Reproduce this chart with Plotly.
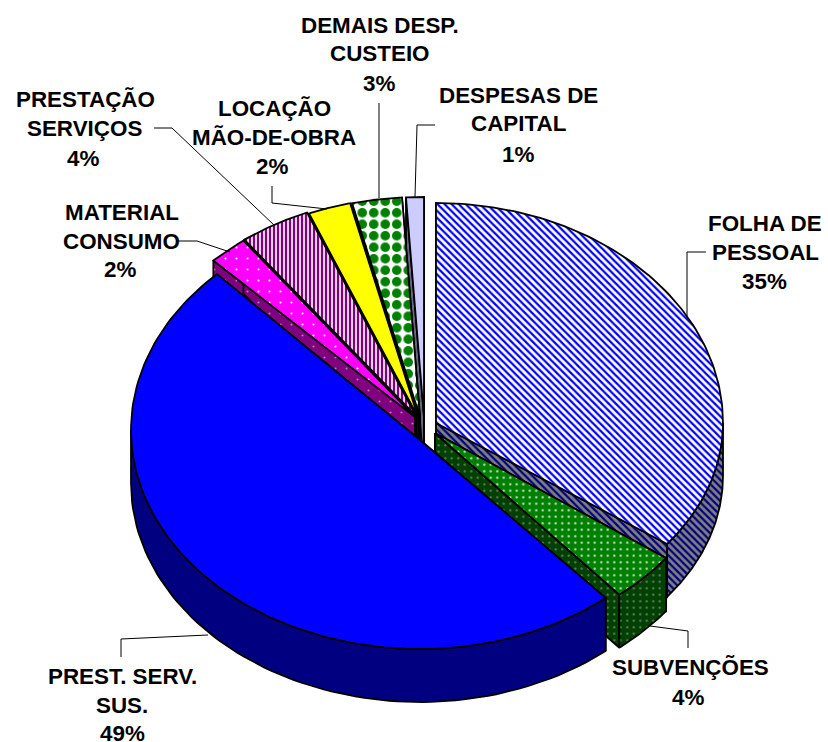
"""Exploded 3D-look pie of spending shares, drawn as filled Plotly scatter polygons."""
import numpy as np
import plotly.graph_objects as go

# data
CATEGORIES = ["FOLHA DE PESSOAL", "SUBVENÇÕES", "PREST. SERV. SUS.", "MATERIAL CONSUMO",
              "PRESTAÇÃO SERVIÇOS", "LOCAÇÃO MÃO-DE-OBRA", "DEMAIS DESP. CUSTEIO",
              "DESPESAS DE CAPITAL"]
VALUES = [35.1, 3.8, 48.7, 2.2, 4.0, 2.4, 2.8, 1.0]

# label text lines without the percentage, which comes from VALUES
LABEL_LINES = [["FOLHA DE", "PESSOAL"], ["SUBVENÇÕES"], ["PREST. SERV.", "SUS."],
               ["MATERIAL", "CONSUMO"], ["PRESTAÇÃO", "SERVIÇOS"], ["LOCAÇÃO", "MÃO-DE-OBRA"],
               ["DEMAIS DESP.", "CUSTEIO"], ["DESPESAS DE", "CAPITAL"]]
LABEL_X = [[765, 765, 764], [690, 688], [122, 122, 122], [122, 121, 120],
           [85, 84, 83], [274, 274, 272], [380, 380, 379], [518, 518, 518]]
LABEL_Y = [[223, 252, 281], [667, 697], [676, 705, 733], [212, 241, 269],
           [99, 128, 158], [108, 137, 166], [25, 53, 83], [95, 123, 154]]
LEADER_X = [[706, 687, 687], [688, 688, 650], [121, 121, 208], [178, 197, 230],
            [154, 172, 275], [272, 272, 327], [379, 379], [435, 417, 415]]
LEADER_Y = [[252, 252, 318], [648, 631, 626], [657, 639, 635], [241, 241, 252],
            [128, 128, 226], [186, 203, 209], [103, 198], [125, 125, 197]]

# geometry per slice, pixels on the page; the rim is not quite centred on the apex
DEPTH = 53
APEX_X = [436, 435, 420, 415, 416, 418, 420, 424]
APEX_Y = [423, 433, 440, 417, 416, 417, 417, 417]
RADIUS_X = [287, 287, 289, 287, 287, 287, 287, 287]
RADIUS_BACK = [220, 220, 219, 220, 220, 220, 220, 220]
RADIUS_FRONT = [204, 211, 219, 220, 220, 220, 220, 220]
RIM_SHIFT = [0, 0, -10, 0, 0, 0, 0, 0]
DRAW_ORDER = [7, 6, 5, 4, 3, 0, 1, 2]


def pat(shape, fg, bg, size, solidity):
    return dict(fillcolor=bg, fillpattern=dict(shape=shape, fgcolor=fg, bgcolor=bg, fgopacity=1,
                                               size=size, solidity=solidity))


TOP_STYLE = [
    pat("\\", "#0000FF", "white", 5, 0.45),
    pat(".", "#CCE6CC", "#008000", 6.5, 0.1),
    dict(fillcolor="#0000FF"),
    pat(".", "white", "#FF00FF", 11, 0.03),
    pat("|", "#800080", "#F0E6F0", 4, 0.55),
    dict(fillcolor="#FFFF00"),
    pat(".", "#008000", "white", 11.5, 0.55),
    dict(fillcolor="#CCCCFF"),
]
SIDE_STYLE = [
    pat("\\", "#000080", "#808080", 5, 0.45),
    pat(".", "#668066", "#004000", 6.5, 0.1),
    dict(fillcolor="#000080"),
    pat(".", "#B080B0", "#800080", 11, 0.03),
    dict(fillcolor="#400040"),
    dict(fillcolor="#808000"),
    dict(fillcolor="#004000"),
    dict(fillcolor="#666680"),
]


def rim(i, t):
    """Point on slice i's rim for clockwise angle t (radians from the top)."""
    t = np.asarray(t)
    ry = np.where(np.cos(t) > 0, RADIUS_BACK[i], RADIUS_FRONT[i])
    return APEX_X[i] + RADIUS_X[i] * np.sin(t), APEX_Y[i] + RIM_SHIFT[i] - ry * np.cos(t)


def add_poly(fig, xs, ys, style, name):
    fig.add_trace(go.Scatter(x=xs, y=ys, mode="lines", fill="toself", name=name,
                             line=dict(color="black", width=1.8),
                             hoverinfo="skip", showlegend=False, **style))


fig = go.Figure()
cum = np.cumsum([0] + VALUES) / sum(VALUES) * 2 * np.pi

for i in DRAW_ORDER:
    cx, cy = APEX_X[i], APEX_Y[i]
    start, end = cum[i], cum[i + 1]
    # cut faces
    for t in (start, end):
        rx, ry = rim(i, t)
        add_poly(fig, [cx, rx, rx, cx, cx], [cy, ry, ry + DEPTH, cy + DEPTH, cy], SIDE_STYLE[i], CATEGORIES[i])
    # outer wall, front half only
    lo, hi = max(start, np.pi / 2), min(end, 3 * np.pi / 2)
    if lo < hi:
        ts = np.linspace(lo, hi, 80)
        ax, ay = rim(i, ts)
        add_poly(fig, np.r_[ax, ax[::-1], ax[0]], np.r_[ay, ay[::-1] + DEPTH, ay[0]], SIDE_STYLE[i], CATEGORIES[i])
    # top face
    ts = np.linspace(start, end, 120)
    ax, ay = rim(i, ts)
    add_poly(fig, np.r_[cx, ax, cx], np.r_[cy, ay, cy], TOP_STYLE[i], CATEGORIES[i])

for xs, ys in zip(LEADER_X, LEADER_Y):
    fig.add_trace(go.Scatter(x=xs, y=ys, mode="lines", line=dict(color="black", width=1),
                             hoverinfo="skip", showlegend=False))

for i, lines in enumerate(LABEL_LINES):
    rows = lines + [f"{VALUES[i]:.0f}%"]
    for j, row in enumerate(rows):
        fig.add_annotation(x=LABEL_X[i][j], y=LABEL_Y[i][j], text=f"<b>{row}</b>", showarrow=False,
                           xanchor="center", yanchor="middle",
                           font=dict(family="Liberation Sans", size=22.4, color="black"))

fig.update_layout(
    width=828, height=742, margin=dict(l=0, r=0, t=0, b=0),
    paper_bgcolor="white", plot_bgcolor="white", showlegend=False,
    xaxis=dict(range=[0, 828], visible=False, fixedrange=True),
    yaxis=dict(range=[742, 0], visible=False, fixedrange=True),
)
fig.write_html("out.html", config=dict(displayModeBar=False),
               post_script="document.body.style.margin='0';document.body.style.overflow='hidden';")
